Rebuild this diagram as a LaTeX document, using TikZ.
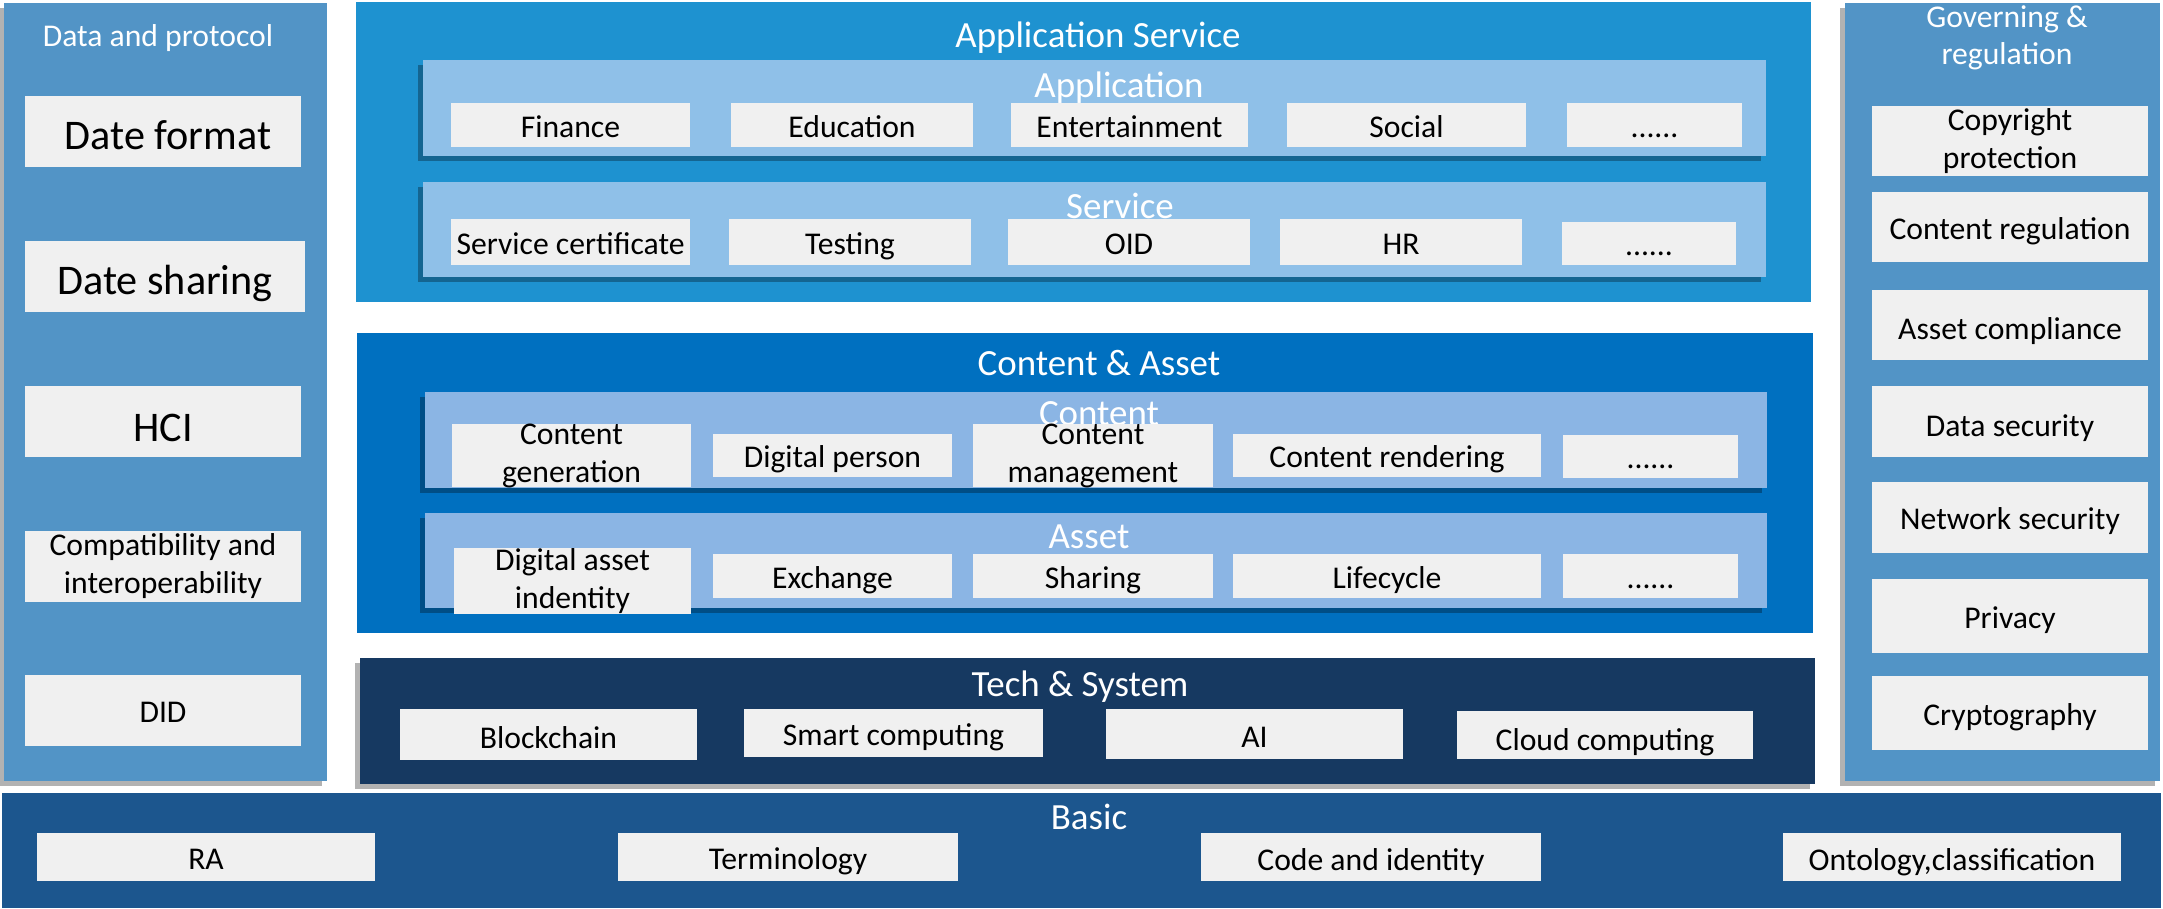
\documentclass[tikz,border=0pt]{standalone}
\usepackage{fontspec}
\setmainfont{Carlito}
\usetikzlibrary{shadows}

\definecolor{sidecol}{RGB}{82,148,198}
\definecolor{appcol}{RGB}{30,146,208}
\definecolor{appsubcol}{RGB}{143,192,232}
\definecolor{concol}{RGB}{0,112,192}
\definecolor{consubcol}{RGB}{139,181,228}
\definecolor{techcol}{RGB}{22,57,97}
\definecolor{basiccol}{RGB}{28,86,142}
\definecolor{boxcol}{RGB}{240,240,240}

\begin{document}
\begin{tikzpicture}[x=0.01cm,y=-0.01cm,
  panel/.style={inner sep=0pt,outer sep=0pt},
  shade/.style={drop shadow={shadow xshift=-0.5mm,shadow yshift=-0.5mm,fill=black,opacity=0.3}},
  ttl/.style={text=white,align=center,inner sep=0pt,font=\fontsize{10.5}{12}\selectfont},
  item/.style={fill=boxcol,inner sep=0pt,align=center,text=black,font=\fontsize{9}{10.8}\selectfont,minimum height=4.4mm},
  oneline/.style={item,text height=7.5pt,text depth=0.5pt},
  sideitem/.style={oneline,minimum width=27.6mm,minimum height=7mm},
  twoside/.style={item,minimum width=27.6mm,minimum height=7mm},
  bigtext/.style={font=\fontsize{12}{14}\selectfont,text height=10.5pt}]
\useasboundingbox (0,0) rectangle (2163,908);

% left column
\node[panel,fill=sidecol,shade,minimum width=32.3mm,minimum height=77.8mm] (dp) at (165.5,392) {};
\node[ttl,font=\fontsize{9}{10.5}\selectfont] (dptitle) at (158,38) {Data and protocol};
\node[sideitem,bigtext] (dformat) at (163,131.5) {\hspace{1mm}Date format};
\node[sideitem,bigtext,minimum width=28mm] (dshare) at (165,276.5) {Date sharing};
\node[sideitem,bigtext,text height=12pt] (hci) at (163,421.5) {HCI};
\node[twoside] (compat) at (163,566.5) {Compatibility and\\interoperability};
\node[sideitem] (did) at (163,710.5) {DID};

% right column
\node[panel,fill=sidecol,shade,minimum width=31.5mm,minimum height=77.8mm] (gov) at (2002.5,392) {};
\node[ttl,font=\fontsize{9}{10.5}\selectfont] (govtitle) at (2007,38) {Governing \&\\regulation};
\node[twoside,yshift=-0.9mm] (copyr) at (2010,132) {Copyright\\protection};
\node[sideitem] (creg) at (2010,227) {Content regulation};
\node[sideitem,text height=9pt] (acomp) at (2010,325) {Asset compliance};
\node[sideitem,text height=9pt] (dsec) at (2010,421.5) {Data security};
\node[sideitem] (nsec) at (2010,517.5) {Network security};
\node[sideitem,minimum height=7.4mm] (priv) at (2010,616) {Privacy};
\node[sideitem,minimum height=7.4mm] (crypt) at (2010,713) {Cryptography};

% application service
\node[panel,fill=appcol,minimum width=145.5mm,minimum height=30mm] (appsvc) at (1083.5,152) {};
\node[ttl] (appsvctitle) at (1098,38) {Application Service};
\node[panel,fill=appsubcol,shade,minimum width=134.3mm,minimum height=9.6mm] (appsub) at (1094.5,108) {};
\node[ttl] (apptitle) at (1119,88) {Application};
\node[oneline,minimum width=23.9mm] (finance) at (570.5,125) {Finance};
\node[oneline,minimum width=24.2mm] (edu) at (852,125) {Education};
\node[oneline,minimum width=23.7mm] (ent) at (1129.5,125) {Entertainment};
\node[oneline,minimum width=23.9mm] (social) at (1406.5,125) {Social};
\node[oneline,minimum width=17.5mm] (appmore) at (1654.5,125) {......};
\node[panel,fill=appsubcol,shade,minimum width=134.3mm,minimum height=9.5mm] (svcsub) at (1094.5,229.5) {};
\node[ttl] (svctitle) at (1120,206) {Service};
\node[oneline,minimum width=23.9mm,minimum height=4.6mm] (cert) at (570.5,242) {Service certificate};
\node[oneline,minimum width=24.2mm,minimum height=4.6mm] (test) at (850,242) {Testing};
\node[oneline,minimum width=24.2mm,minimum height=4.6mm] (oid) at (1129,242) {OID};
\node[oneline,minimum width=24.2mm,minimum height=4.6mm] (hr) at (1401,242) {HR};
\node[oneline,minimum width=17.4mm,minimum height=4.3mm] (svcmore) at (1649,243.5) {......};

% content and asset
\node[panel,fill=concol,minimum width=145.6mm,minimum height=30mm] (conasset) at (1085,483) {};
\node[ttl] (conassettitle) at (1099,363) {Content \& Asset};
\node[panel,fill=consubcol,shade,minimum width=134.2mm,minimum height=9.6mm] (consub) at (1096,440) {};
\node[ttl] (contitle) at (1099,414) {Content};
\node[item,minimum width=23.9mm,minimum height=4.3mm] (cgen) at (571.5,455.5) {Content\\generation};
\node[oneline,minimum width=23.9mm,minimum height=4.3mm] (dperson) at (832.5,455.5) {Digital person};
\node[item,minimum width=24mm,minimum height=4.3mm] (cman) at (1093,455.5) {Content\\management};
\node[oneline,minimum width=30.8mm,minimum height=4.3mm] (crend) at (1387,455.5) {Content rendering};
\node[oneline,minimum width=17.5mm,minimum height=4.3mm] (conmore) at (1650.5,456.5) {......};
\node[panel,fill=consubcol,shade,minimum width=134.2mm,minimum height=9.5mm] (assetsub) at (1096,560.5) {};
\node[ttl] (assettitle) at (1089,537) {Asset};
\node[item,minimum width=23.7mm,yshift=-0.5mm] (daid) at (572.5,576) {Digital asset\\indentity};
\node[oneline,minimum width=23.9mm] (exch) at (832.5,576) {Exchange};
\node[oneline,minimum width=24mm] (share) at (1093,576) {Sharing};
\node[oneline,minimum width=30.8mm] (life) at (1387,576) {Lifecycle};
\node[oneline,minimum width=17.5mm] (assetmore) at (1650.5,576) {......};

% tech and system
\node[panel,fill=techcol,shade,minimum width=145.5mm,minimum height=12.6mm] (tech) at (1087.5,721) {};
\node[ttl] (techtitle) at (1080,687) {Tech \& System};
\node[oneline,minimum width=29.7mm,minimum height=5.1mm,text height=8.5pt] (chain) at (548.5,734.5) {Blockchain};
\node[oneline,minimum width=29.9mm,minimum height=4.8mm] (smart) at (893.5,733) {Smart computing};
\node[oneline,minimum width=29.7mm,minimum height=5mm,text height=8pt] (ai) at (1254.5,734) {AI};
\node[oneline,minimum width=29.6mm,minimum height=4.8mm,text height=9.5pt] (cloud) at (1605,735) {Cloud computing};

% basic
\node[panel,fill=basiccol,minimum width=215.7mm,minimum height=11.5mm] (basic) at (1081.5,850.5) {};
\node[ttl] (basictitle) at (1089,817) {Basic};
\node[oneline,minimum width=33.8mm,minimum height=4.8mm] (ra) at (206,857) {RA};
\node[oneline,minimum width=34mm,minimum height=4.8mm] (term) at (788,857) {Terminology};
\node[oneline,minimum width=34mm,minimum height=4.8mm,text height=8pt] (code) at (1371,857) {Code and identity};
\node[oneline,minimum width=33.8mm,minimum height=4.8mm,text height=8pt] (onto) at (1952,857) {Ontology,classification};
\end{tikzpicture}
\end{document}
